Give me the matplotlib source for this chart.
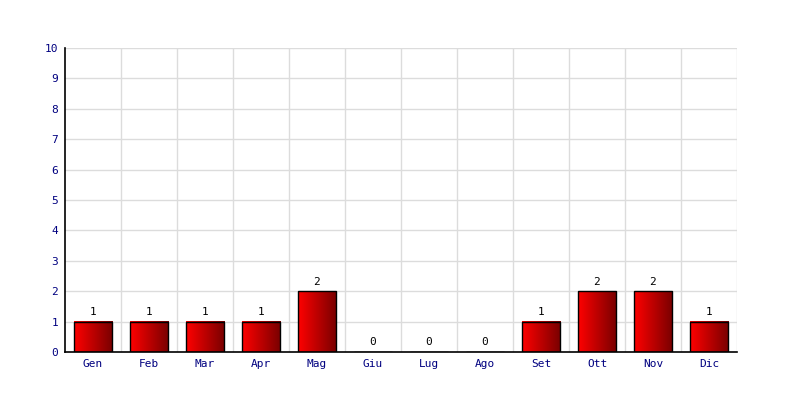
import numpy as np
import matplotlib.pyplot as plt
from matplotlib.colors import LinearSegmentedColormap

months = ['Gen', 'Feb', 'Mar', 'Apr', 'Mag', 'Giu', 'Lug', 'Ago', 'Set', 'Ott', 'Nov', 'Dic']
values = [1, 1, 1, 1, 2, 0, 0, 0, 1, 2, 2, 1]

plt.rcParams['font.family'] = 'DejaVu Sans Mono'

fig = plt.figure(figsize=(8, 4), dpi=100)
ax = fig.add_axes([0.08125, 0.12, 0.84, 0.76])

x = np.arange(len(months))
bars = ax.bar(x, values, width=0.68, facecolor='none', edgecolor='black', linewidth=1, zorder=4)

# horizontal gradient red -> dark red inside each bar
cmap = LinearSegmentedColormap.from_list('redgrad', ['#ff0000', '#780000'])
grad = np.linspace(0, 1, 256).reshape(1, -1)
for b, v in zip(bars, values):
    if v == 0:
        continue
    x0, w, h = b.get_x(), b.get_width(), b.get_height()
    ax.imshow(grad, cmap=cmap, aspect='auto', extent=[x0, x0 + w, 0, h], zorder=3)
    ax.text(x0 + w / 2, v + 0.15, str(v), ha='center', va='bottom', fontsize=8, color='black')
for xi, v in zip(x, values):
    if v == 0:
        ax.text(xi, 0.15, '0', ha='center', va='bottom', fontsize=8, color='black')

ax.set_xlim(-0.5, len(months) - 0.5)
ax.set_ylim(0, 10)
ax.set_yticks(range(0, 11))
ax.set_xticks(x)
ax.set_xticklabels(months)
ax.tick_params(axis='both', length=0, labelsize=8, labelcolor='#000080', pad=5)

# grid: horizontal at each integer, vertical at category boundaries
for yv in range(1, 11):
    ax.axhline(yv, color='#dcdcdc', linewidth=1, zorder=1)
for xb in np.arange(0.5, len(months), 1.0):
    ax.axvline(xb, color='#dcdcdc', linewidth=1, zorder=1)

for s in ['top', 'right']:
    ax.spines[s].set_visible(False)
ax.spines['left'].set_linewidth(1.2)
ax.spines['bottom'].set_linewidth(1.2)
ax.spines['left'].set_zorder(5)
ax.spines['bottom'].set_zorder(5)

fig.savefig('out.png', dpi=100)
